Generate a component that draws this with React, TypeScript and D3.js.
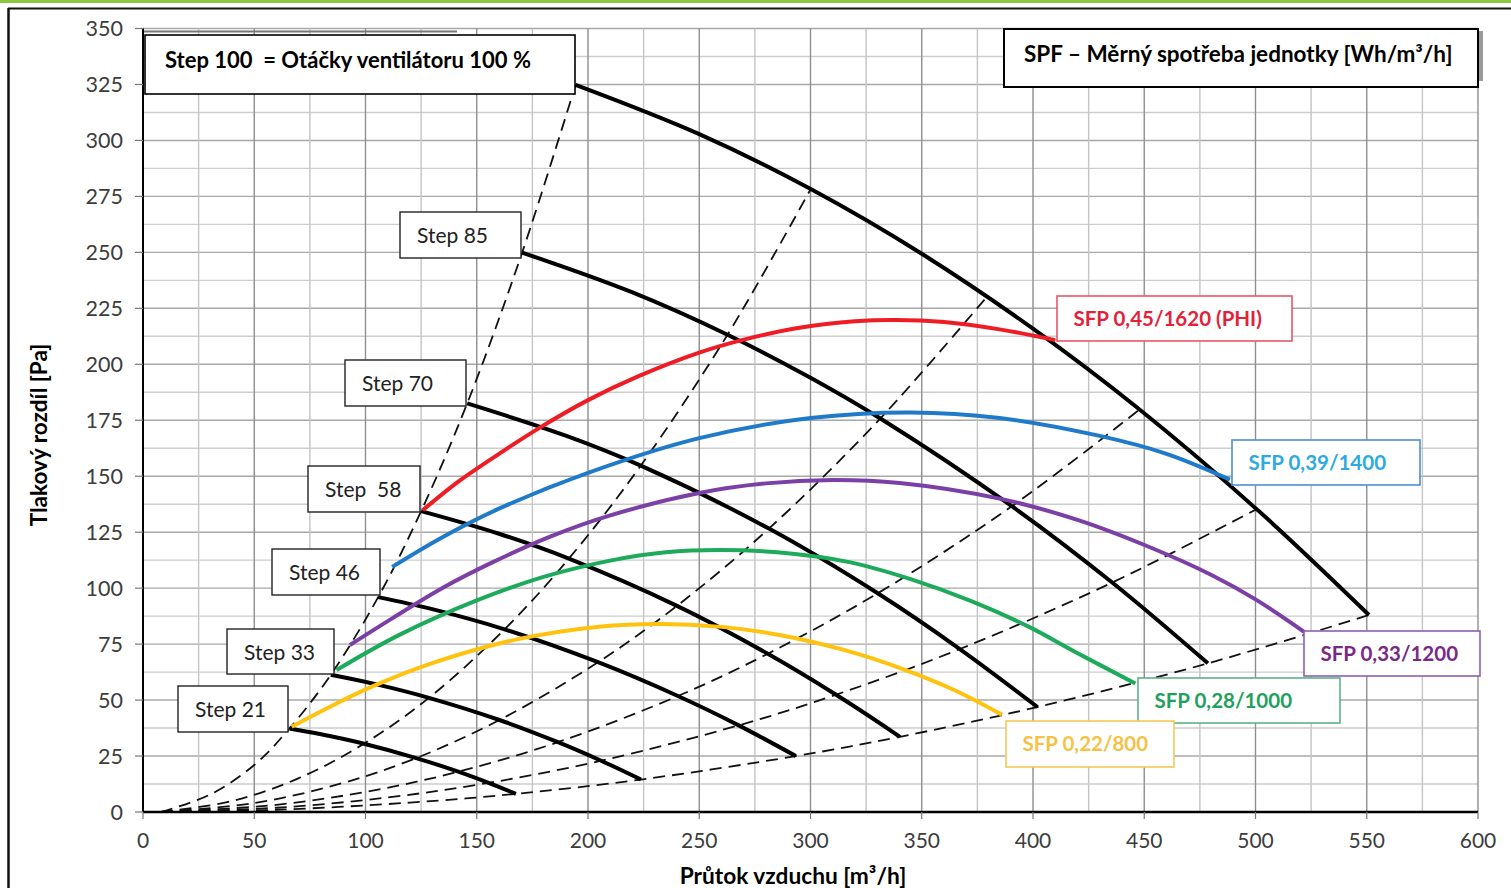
import React from 'react';
import * as d3 from 'd3';

// Fan curves of the unit: flow [m3/h] vs. pressure difference [Pa]

type Pt = [number, number];

const W = 1511;
const H = 888;

const X_TICKS = [0, 50, 100, 150, 200, 250, 300, 350, 400, 450, 500, 550, 600];
const Y_TICKS = [0, 25, 50, 75, 100, 125, 150, 175, 200, 225, 250, 275, 300, 325, 350];

// ─── fan speed steps (solid black) ─────────────────────────────────────────
const STEP_100: Pt[] = [[194.4, 324.8], [250, 302.8], [300.1, 278.3], [350, 249.4], [400, 215.9], [447.9, 179.8], [500.5, 135.3], [551, 88.0]];
const STEP_85: Pt[] = [[170.4, 249.9], [220, 232.1], [262.7, 213.2], [300, 194], [331.4, 175.8], [390.5, 136.6], [435.6, 102.5], [478.6, 66.4]];
const STEP_70: Pt[] = [[145.7, 182.5], [190, 168.1], [223.7, 154.7], [281.3, 126.6], [330.2, 97.7], [367.1, 72.8], [402, 46.9]];
const STEP_58: Pt[] = [[125, 134.4], [160, 124.3], [191.4, 113.2], [240, 92.1], [280.8, 70.7], [311.5, 52.4], [340.2, 33.6]];
const STEP_46: Pt[] = [[105.7, 96.0], [130, 90.6], [162.5, 81.6], [204.5, 66.9], [240.4, 51.8], [267.7, 38.7], [293.4, 25.0]];
const STEP_33: Pt[] = [[84.4, 61.3], [105, 57], [128.5, 51.0], [160.2, 41.1], [186.5, 31.2], [205.9, 22.9], [223.8, 14.5]];
const STEP_21: Pt[] = [[65.8, 37.3], [80, 34.7], [99.3, 30.5], [122.8, 24.1], [141.7, 18.0], [155.3, 13.0], [167.6, 8.1]];

const STEPS = [STEP_100, STEP_85, STEP_70, STEP_58, STEP_46, STEP_33, STEP_21];
const STEP_NAMES = ['Step 85', 'Step 70', 'Step  58', 'Step 46', 'Step 33', 'Step 21'];

// ─── system curves (dashed) ────────────────────────────────────────────────
const SYS_1: Pt[] = [[8, 0], [30, 7.7], [50, 21], [65.8, 37.3], [84.4, 61.3], [105.7, 96.0], [125, 134.4], [145.7, 182.5], [170.4, 249.9], [194.4, 324.8]];
const SYS_2: Pt[] = [[8, 0], [40, 4.9], [70, 15.1], [99.3, 30.5], [128.5, 51.0], [162.5, 81.6], [191.4, 113.2], [223.7, 154.7], [262.7, 213.2], [300.1, 278.3]];
const SYS_3: Pt[] = [[8, 0], [50, 4], [90, 13], [122.8, 24.1], [160.2, 41.1], [204.5, 66.9], [240, 92.1], [281.3, 126.6], [331.4, 175.8], [379.4, 230.3]];
const SYS_4: Pt[] = [[8, 0], [60, 3.2], [105, 9.9], [141.7, 18.0], [186.5, 31.2], [240.4, 51.8], [280.8, 70.7], [330.2, 97.7], [390.5, 136.6], [447.9, 179.8]];
const SYS_5: Pt[] = [[8, 0], [60, 1.9], [110, 6.5], [155.3, 13.0], [205.9, 22.9], [267.7, 38.7], [311.5, 52.4], [367.1, 72.8], [435.6, 102.5], [500.5, 135.3]];
const SYS_6: Pt[] = [[8, 0], [60, 1], [120, 4.2], [167.6, 8.1], [223.8, 14.5], [293.4, 25.0], [340.2, 33.6], [402, 46.9], [478.6, 66.4], [551, 88.0]];

const SYSTEMS = [SYS_1, SYS_2, SYS_3, SYS_4, SYS_5, SYS_6];

// ─── SFP iso-lines (coloured) ──────────────────────────────────────────────
const SFP_045: Pt[] = [[125.7, 134.8], [142, 147.8], [160, 160], [178, 171.5], [200, 184], [223, 194.8], [250, 205.2], [270, 211], [295, 216.3], [320, 219.2], [338, 219.8], [360, 218.9], [385, 215.6], [410, 210.8]];
const SFP_039: Pt[] = [[112, 109.5], [135, 123], [160, 135.5], [200, 151.5], [250, 167], [300, 176], [345, 178.5], [385, 176], [430, 168], [460, 160], [488.5, 148.5]];
const SFP_033: Pt[] = [[93, 74.6], [112, 86.5], [135, 100.3], [157, 111.5], [183, 123], [210, 132.5], [250, 142.5], [280, 146.8], [310, 148.3], [340, 147], [385, 140], [420, 130.5], [452, 118.5], [480, 106], [500, 95], [522, 80.4]];
const SFP_028: Pt[] = [[87, 63.4], [115, 79], [150, 94.5], [180, 105], [210, 112.3], [235, 116], [259, 117], [285, 116], [318, 111.5], [345, 104], [372, 94.3], [398, 82.8], [419, 71.5], [446, 57.4]];
const SFP_022: Pt[] = [[66.8, 38.1], [85, 47.5], [103.4, 56.2], [130.3, 66.6], [168, 77.1], [205, 82.8], [232, 84], [260, 82.7], [286, 79.1], [315, 72.4], [340, 64.4], [365, 54.3], [386, 43.5]];

const SFP_SERIES = [SFP_045, SFP_039, SFP_033, SFP_028, SFP_022];
const SFP_NAMES = ['SFP 0,45/1620 (PHI)', 'SFP 0,39/1400', 'SFP 0,33/1200', 'SFP 0,28/1000', 'SFP 0,22/800'];
const SFP_LINE = ['#ee1c25', '#1f7bc9', '#7b3fa6', '#1daa5a', '#ffc20e'];
const SFP_TEXT = ['#e3223a', '#2eaae2', '#7a2886', '#1fa05c', '#f4c245'];
const SFP_BORDER = ['#e8566a', '#4f8fcb', '#8a5fb2', '#5cb389', '#f3ca55'];

// annotation boxes (pixel layout)
const STEP_BOXES = [
  { x: 400, y: 212, w: 121, h: 46 },
  { x: 345, y: 360, w: 121, h: 46 },
  { x: 308, y: 466, w: 112, h: 46 },
  { x: 272, y: 549, w: 108, h: 46 },
  { x: 227, y: 629, w: 107, h: 45 },
  { x: 178, y: 686, w: 110, h: 46 },
];
const SFP_BOXES = [
  { x: 1057, y: 296, w: 235, h: 45 },
  { x: 1232, y: 440, w: 188, h: 45 },
  { x: 1304, y: 631, w: 176, h: 45 },
  { x: 1138, y: 678, w: 202, h: 45 },
  { x: 1006, y: 721, w: 168, h: 46 },
];

const FONT = "Lato, 'Open Sans', sans-serif";

export default function App() {
  const x = d3.scaleLinear().domain([0, 600]).range([143, 1478]);
  const y = d3.scaleLinear().domain([0, 350]).range([812, 28.5]);
  const line = d3.line<Pt>().x(d => x(d[0])).y(d => y(d[1])).curve(d3.curveCatmullRom.alpha(0.5));

  const vGrid = d3.range(0, 601, 25);
  const hGrid = d3.range(0, 351, 12.5);

  return (
    <svg width={W} height={H} style={{ position: 'absolute', left: 0, top: 0, background: '#fff' }} fontFamily={FONT}>
      <rect x={0} y={0} width={W} height={H} fill="#fff" />
      {/* page frame */}
      <rect x={0} y={0} width={W} height={3} fill="#8dc63f" />
      <line x1={8} x2={W} y1={8.5} y2={8.5} stroke="#111" strokeWidth={2} />
      <line x1={8.5} x2={8.5} y1={8} y2={H} stroke="#111" strokeWidth={2.5} />

      {/* grid */}
      {hGrid.map(v => (
        <line key={`h${v}`} x1={x(0)} x2={x(600)} y1={y(v)} y2={y(v)}
          stroke={v % 25 === 0 ? '#a8a8a8' : '#cdcdcd'} strokeWidth={1.4} />
      ))}
      {vGrid.map(v => (
        <line key={`v${v}`} x1={x(v)} x2={x(v)} y1={y(0)} y2={y(350)}
          stroke={v % 50 === 0 ? '#8f8f8f' : '#c4c4c4'} strokeWidth={1.4} />
      ))}
      <line x1={x(0)} x2={457} y1={31.5} y2={31.5} stroke="#777" strokeWidth={2} />

      {/* system curves */}
      {SYSTEMS.map((s, i) => (
        <path key={`s${i}`} d={line(s) ?? undefined} fill="none" stroke="#111" strokeWidth={1.8} strokeDasharray="12 7" />
      ))}

      {/* fan steps */}
      {STEPS.map((s, i) => (
        <path key={`f${i}`} d={line(s) ?? undefined} fill="none" stroke="#000" strokeWidth={4} />
      ))}

      {/* SFP lines */}
      {SFP_SERIES.map((s, i) => (
        <path key={`c${i}`} d={line(s) ?? undefined} fill="none" stroke={SFP_LINE[i]} strokeWidth={4} />
      ))}

      {/* axes */}
      <line x1={x(0)} x2={x(0)} y1={y(0)} y2={y(350)} stroke="#000" strokeWidth={2} />
      <line x1={x(0)} x2={x(600)} y1={y(0)} y2={y(0)} stroke="#000" strokeWidth={2.5} />
      {Y_TICKS.map(v => (
        <g key={`yt${v}`}>
          <line x1={x(0) - 8} x2={x(0)} y1={y(v)} y2={y(v)} stroke="#777" strokeWidth={1.2} />
          <text x={123} y={y(v) + 7.5} textAnchor="end" fontSize={21.5} fill="#3c3c3c">{v}</text>
        </g>
      ))}
      {X_TICKS.map(v => (
        <g key={`xt${v}`}>
          <line x1={x(v)} x2={x(v)} y1={y(0)} y2={y(0) + 7} stroke="#777" strokeWidth={1.2} />
          <text x={x(v)} y={848} textAnchor="middle" fontSize={21} fill="#3c3c3c">{v}</text>
        </g>
      ))}
      <text transform="translate(47,435) rotate(-90)" textAnchor="middle" fontSize={22.5} fontWeight="bold" fill="#000">
        Tlakový rozdíl [Pa]
      </text>
      <text x={793} y={884} textAnchor="middle" fontSize={22.7} fontWeight="bold" fill="#000">
        Průtok vzduchu [m³/h]
      </text>

      {/* header boxes */}
      <rect x={145} y={35} width={430} height={59} fill="#fff" stroke="#000" strokeWidth={1.6} />
      <text x={165} y={68} fontSize={22} fontWeight="bold" fill="#000" style={{ whiteSpace: 'pre' }}>
        {'Step 100  = Otáčky ventilátoru 100 %'}
      </text>
      <rect x={1479} y={31} width={4} height={50} fill="#9a9a9a" />
      <rect x={1004} y={29} width={474} height={58} fill="#fff" stroke="#000" strokeWidth={2} />
      <text x={1024} y={62} fontSize={22.5} fontWeight="bold" fill="#000">
        SPF – Měrný spotřeba jednotky [Wh/m³/h]
      </text>

      {/* step labels */}
      {STEP_BOXES.map((b, i) => (
        <g key={`sb${i}`}>
          <rect x={b.x} y={b.y} width={b.w} height={b.h} fill="#fff" stroke="#222" strokeWidth={1.4} />
          <text x={b.x + 17} y={b.y + 30.5} fontSize={21} fill="#222" style={{ whiteSpace: 'pre' }}>{STEP_NAMES[i]}</text>
        </g>
      ))}

      {/* SFP labels */}
      {SFP_BOXES.map((b, i) => (
        <g key={`cb${i}`}>
          <rect x={b.x} y={b.y} width={b.w} height={b.h} fill="#fff" stroke={SFP_BORDER[i]} strokeWidth={1.6} />
          <text x={b.x + 16.5} y={b.y + 30} fontSize={20.5} fontWeight="bold" fill={SFP_TEXT[i]}>{SFP_NAMES[i]}</text>
        </g>
      ))}
    </svg>
  );
}
